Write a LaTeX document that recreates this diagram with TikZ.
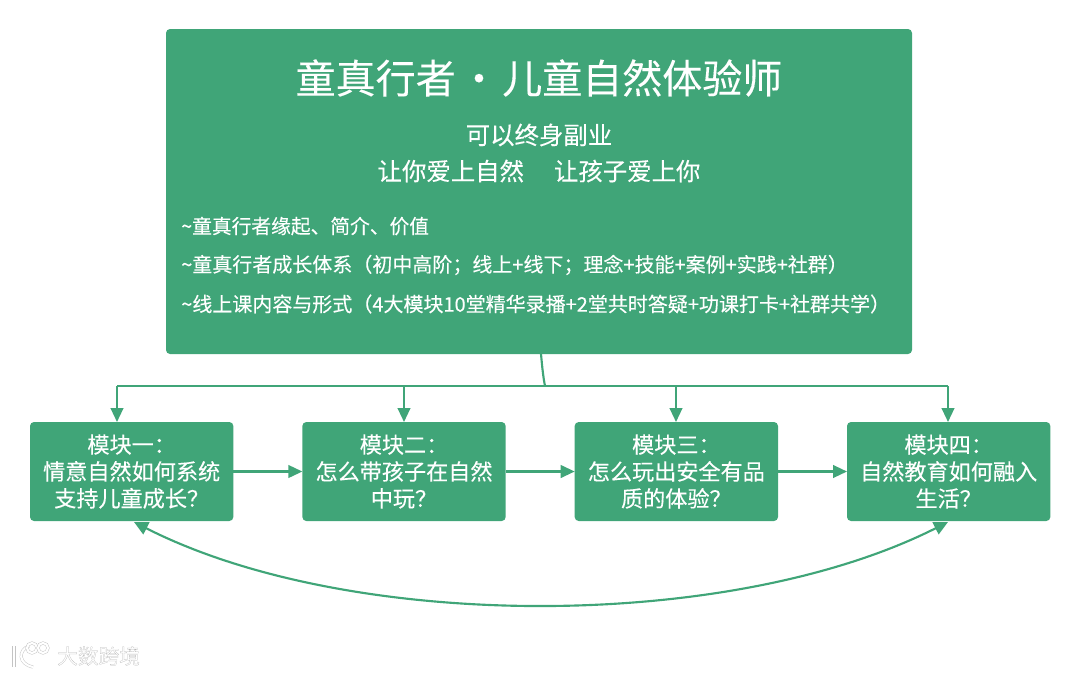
\documentclass[tikz,border=0pt]{standalone}
\usepackage{fontspec}
\setmainfont[FakeBold=0.2]{Noto Sans CJK SC}
\newfontfamily\markfont[FakeBold=1]{Noto Sans CJK SC}
\usetikzlibrary{positioning,arrows.meta}

\definecolor{mossgreen}{HTML}{40A578}
\definecolor{markgray}{HTML}{C4C4C4}

% full-width punctuation
\newcommand{\fwopen}{\char"FF08\relax}
\newcommand{\fwclose}{\char"FF09\relax}
\newcommand{\fwsemi}{\char"FF1B\relax}
\newcommand{\fwcolon}{\char"FF1A\relax}
\newcommand{\fwask}{\char"FF1F\relax}

\tikzset{
  mainbox/.style={fill=mossgreen, rounded corners=3pt, minimum width=559.5pt, minimum height=243.75pt, inner sep=0pt, outer sep=0pt},
  modbox/.style={fill=mossgreen, rounded corners=3pt, minimum width=152.5pt, minimum height=74.25pt, inner sep=0pt, outer sep=0pt, text=white, align=center, font=\fontsize{16.6pt}{20.2pt}\selectfont},
  whitetext/.style={text=white, inner sep=0pt},
  bodytext/.style={whitetext, anchor=west, font=\fontsize{15pt}{18pt}\selectfont},
  flowline/.style={draw=mossgreen, line width=1.6pt},
  flowarrow/.style={flowline, -{Triangle[length=10.5pt,width=9.5pt]}},
  looparrow/.style={flowline, {Triangle[length=10.5pt,width=10pt]}-{Triangle[length=10.5pt,width=10pt]}},
  markstroke/.style={draw=markgray, double=white, double distance=1.6pt, line width=0.35pt}
}

\begin{document}
\begin{tikzpicture}[x=0.75pt,y=-0.75pt]
  \useasboundingbox (0,0) rectangle (1080,676);

  % Boxes
  \node[mainbox] (main) at (539,191.5) {};
  \node[modbox] (mod_a) at (131.67,471.5) {模块一\fwcolon\\情意自然如何系统\\支持儿童成长\fwask};
  \node[modbox, right = 51.75pt of mod_a] (mod_b) {模块二\fwcolon\\怎么带孩子在自然\\中玩\fwask};
  \node[modbox, right = 51.75pt of mod_b] (mod_c) {模块三\fwcolon\\怎么玩出安全有品\\质的体验\fwask};
  \node[modbox, right = 51.75pt of mod_c] (mod_d) {模块四\fwcolon\\自然教育如何融入\\生活\fwask};

  % Texts
  \node[whitetext, font=\fontsize{30pt}{36pt}\selectfont] (title) at (539,78) {童真行者\hspace{2.5pt}•\hspace{2.5pt}儿童自然体验师};
  \node[whitetext, font=\fontsize{18.3pt}{22pt}\selectfont] (sub_a) at (539,135) {可以终身副业};
  \node[whitetext, font=\fontsize{18.3pt}{22pt}\selectfont] (sub_b) at (539,171) {让你爱上自然\hspace{22.5pt}让孩子爱上你};
  \node[bodytext, font=\fontsize{14.8pt}{18pt}\selectfont] (line_a) at (181,226) {\char`\~童真行者缘起、简介、价值};
  \node[bodytext] (line_b) at (181,265) {\char`\~童真行者成长体系\fwopen 初中高阶\fwsemi 线上+线下\fwsemi 理念+技能+案例+实践+社群\fwclose};
  \node[bodytext] (line_c) at (181,304) {\char`\~线上课内容与形式\fwopen 4大模块10堂精华录播+2堂共时答疑+功课打卡+社群共学\fwclose};

  % Bus
  \coordinate (main_out) at (541,354);
  \coordinate (bus_mid) at (545,386);
  \coordinate (bus_a) at (117,386);
  \coordinate (bus_b) at (404,386);
  \coordinate (bus_c) at (676,386);
  \coordinate (bus_d) at (948,386);
  \draw[flowline] (main_out) .. controls (542,365) and (543,376) .. (bus_mid);
  \draw[flowline] (bus_a) -- (bus_d);
  \draw[flowarrow] (bus_a) -- (bus_a |- mod_a.north);
  \draw[flowarrow] (bus_b) -- (bus_b |- mod_b.north);
  \draw[flowarrow] (bus_c) -- (bus_c |- mod_c.north);
  \draw[flowarrow] (bus_d) -- (bus_d |- mod_d.north);

  % Edges
  \draw[flowarrow] (mod_a) -- (mod_b);
  \draw[flowarrow] (mod_b) -- (mod_c);
  \draw[flowarrow] (mod_c) -- (mod_d);
  \coordinate (loop_l) at (134,522);
  \coordinate (loop_r) at (948,522);
  \draw[looparrow] (loop_l) .. controls (350,632) and (730,632) .. (loop_r);

  % Watermark
  \node[text=white, inner sep=0pt, anchor=west, font=\fontsize{15.5pt}{18pt}\markfont] (mark) at (57,656) {\special{pdf:code 0.72 G}大数跨境};
  \draw[markstroke] (14,646) -- (14,667);
  \draw[markstroke] (29,646) .. controls (18,650) and (18,664) .. (33,667);
  \node[markstroke, circle, minimum size=7.5pt, inner sep=0pt] (mark_a) at (32,648) {};
  \node[markstroke, circle, minimum size=7.5pt, inner sep=0pt] (mark_b) at (43,648) {};
\end{tikzpicture}
\end{document}
